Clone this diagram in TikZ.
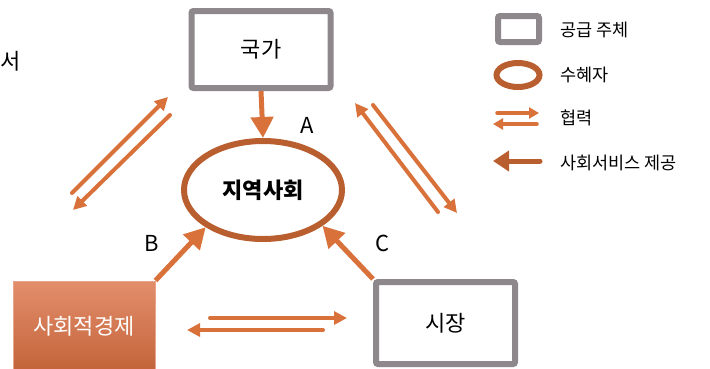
\documentclass[tikz,border=0pt]{standalone}
\usepackage{fontspec}
\setmainfont{Noto Sans CJK KR}
\usetikzlibrary{shapes.geometric,arrows.meta,positioning}

\definecolor{supgray}{HTML}{8E878B}
\definecolor{coop}{HTML}{D9713B}
\definecolor{recv}{HTML}{B95E2F}
\definecolor{setop}{HTML}{E38E6C}
\definecolor{sebot}{HTML}{C3643A}

\begin{document}
\begin{tikzpicture}[x=1pt,y=-1pt,inner sep=0pt,
                    every node/.style={font=\fontsize{22}{26}\selectfont},
                    supplier/.style={draw=supgray,line width=6pt,rounded corners=2pt},
                    receiver/.style={ellipse,draw=recv,line width=6pt},
                    service/.style={draw=coop,line width=5pt,-{Triangle[length=21pt,width=22pt]}},
                    together/.style={draw=coop,line width=4pt,line cap=round,-{Triangle[length=13pt,width=13pt]}},
                    legtext/.style={anchor=west,font=\fontsize{17.5}{20}\selectfont}]
    \clip (0,0) rectangle (710,368);

    % suppliers and the community
    \node at (261, 49.5) (guk)    [supplier,minimum width=139pt,minimum height=77pt] {국가};
    \node at (445.5,323) (market) [supplier,minimum width=139pt,minimum height=82pt] {시장};
    \node at ( 84, 326)  (socec)  [draw=setop!80,line width=1pt,top color=setop,bottom color=sebot,
                                   minimum width=142pt,minimum height=90pt,text=white] {사회적경제};
    \node at (263, 190)  (comm)   [receiver,minimum width=158pt,minimum height=98pt] {\bfseries 지역사회};
    \node at ( 11,  61)  (cut)    {서};

    % service lines A, B, C
    \draw [service] (guk.south)       -- (comm.north);
    \draw [service] (socec.north east) -- (comm.213);
    \draw [service] (market.north west) -- (comm.329);
    \node at (307,125) (lA) {A};
    \node at (152,243) (lB) {B};
    \node at (383,243) (lC) {C};

    % cooperation pairs
    \coordinate (l1) at ( 72,193); \coordinate (l2) at (168, 97);
    \coordinate (l3) at (170,115); \coordinate (l4) at ( 73,210);
    \coordinate (r1) at (438,212); \coordinate (r2) at (355,103);
    \coordinate (r3) at (373,105); \coordinate (r4) at (457,213);
    \coordinate (b1) at (210,318); \coordinate (b2) at (347,318);
    \coordinate (b3) at (323,330); \coordinate (b4) at (187,330);
    \draw [together] (l1) -- (l2);
    \draw [together] (l3) -- (l4);
    \draw [together] (r1) -- (r2);
    \draw [together] (r3) -- (r4);
    \draw [together] (b1) -- (b2);
    \draw [together] (b3) -- (b4);

    % legend
    \node at (518.5, 29) (keysup)  [supplier,minimum width=41pt,minimum height=26pt] {};
    \node at (518,   75) (keyrecv) [receiver,minimum width=43pt,minimum height=24pt] {};
    \coordinate (k1) at (497,113); \coordinate (k2) at (539,113);
    \coordinate (k3) at (537,124); \coordinate (k4) at (493,124);
    \coordinate (k5) at (540,161); \coordinate (k6) at (493,161);
    \draw [together,line width=3.5pt,-{Triangle[length=10pt,width=11pt]}] (k1) -- (k2);
    \draw [together,line width=3.5pt,-{Triangle[length=10pt,width=11pt]}] (k3) -- (k4);
    \draw [service,draw=recv,line cap=round,-{Triangle[length=16pt,width=20pt]}] (k5) -- (k6);
    \node at (560, 30) (t1) [legtext] {공급 주체};
    \node at (560, 75) (t2) [legtext] {수혜자};
    \node at (560,118) (t3) [legtext] {협력};
    \node at (560,163) (t4) [legtext] {사회서비스 제공};
\end{tikzpicture}
\end{document}
